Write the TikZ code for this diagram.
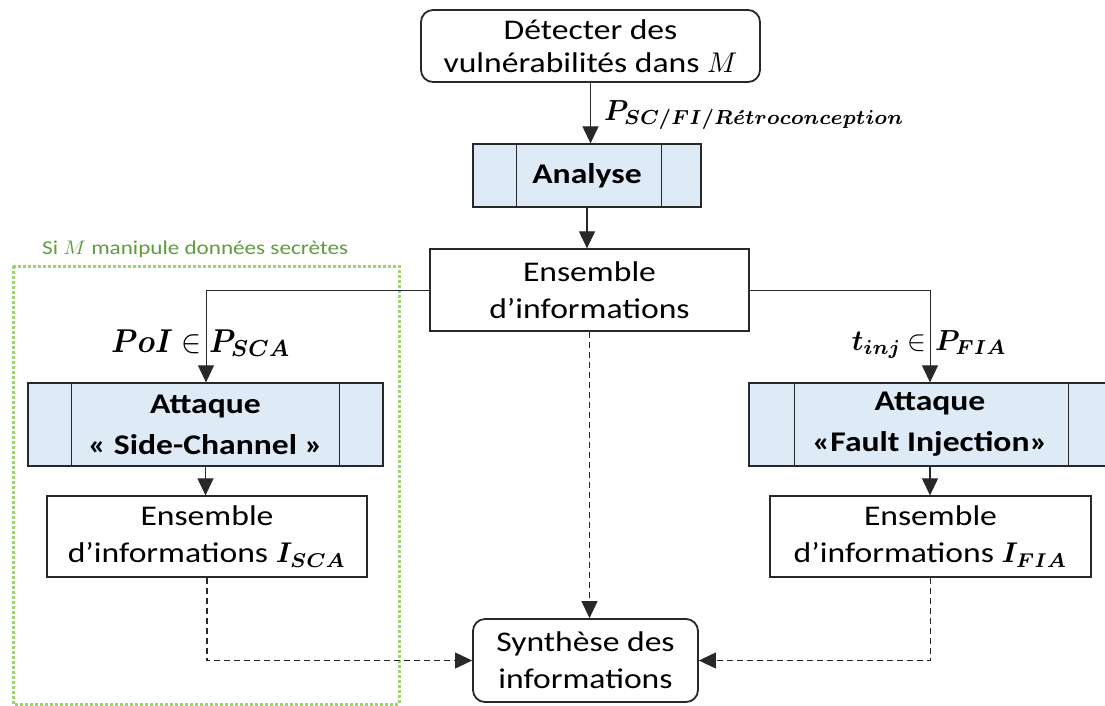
\documentclass[tikz,border=0pt]{standalone}
\usepackage[no-math]{fontspec}
\setmainfont{Carlito}[FakeStretch=1.18]
\usepackage{graphicx}
\usetikzlibrary{arrows.meta}

\definecolor{procfill}{RGB}{222,235,247}
\definecolor{linegray}{RGB}{40,40,40}
\definecolor{framegreen}{RGB}{155,212,110}
\definecolor{labelgreen}{RGB}{94,156,62}

% math set at 10pt, then scaled: #1 vertical factor, #2 horizontal factor
\newcommand{\mx}[3]{\scalebox{#2}[#1]{\fontsize{10}{12}\selectfont #3}}
\newcommand{\mt}[1]{\mx{2.85}{2.8}{#1}}

\tikzset{
  boxbase/.style={draw=linegray, line width=1.3pt, align=center, inner sep=0pt,
    font=\fontsize{28.5}{37}\selectfont},
  roundbox/.style={boxbase, rounded corners=12pt, line width=1.8pt},
  procbox/.style={boxbase, fill=procfill, font=\fontsize{28.5}{41}\selectfont\bfseries},
  infobox/.style={boxbase},
  arr/.style={-{Triangle[width=16pt,length=17pt]}, line width=1.1pt, draw=linegray},
  darr/.style={arr, dash pattern=on 6pt off 4pt},
  mathlabel/.style={inner sep=0pt},
}

\begin{document}
\begin{tikzpicture}[x=1pt, y=-1pt]
\useasboundingbox (0,0) rectangle (1105,705);
\clip (0,0) rectangle (1105,705);

% region grouping the side-channel branch
\draw[framegreen, line width=3pt, dash pattern=on 2.6pt off 2.4pt]
  (13,266) rectangle (399,704);
\node[anchor=base west, inner sep=0pt, text=labelgreen,
      font=\fontsize{19.6}{20}\selectfont] (cond) at (42,254)
  {Si \mx{1.96}{2.1}{$M$} manipule données secrètes};

% boxes
\node[roundbox, minimum width=339pt, minimum height=72pt,
      font=\fontsize{28.5}{33}\selectfont] (detect) at (590.5,46)
  {Détecter des\\vulnérabilités dans \mt{$M$}};
\node[procbox, minimum width=228pt, minimum height=63pt] (ana) at (587,175.5) {Analyse};
\node[infobox, minimum width=319pt, minimum height=82pt] (ens) at (589.5,290)
  {Ensemble\\d’informations};
\node[procbox, minimum width=355pt, minimum height=83pt] (sca) at (205.5,424.5)
  {Attaque\\« Side-Channel »};
\node[procbox, minimum width=362pt, minimum height=83pt] (fia) at (930,424.5)
  {Attaque\\«Fault Injection»};
\node[infobox, minimum width=320pt, minimum height=81pt] (isca) at (207,536.5)
  {Ensemble\\d’informations \mt{\boldmath$I_{SCA}$}};
\node[infobox, minimum width=321pt, minimum height=81pt] (ifia) at (930.5,536.5)
  {Ensemble\\d’informations \mt{\boldmath$I_{FIA}$}};
\node[roundbox, minimum width=225pt, minimum height=83pt] (syn) at (585.5,660.5)
  {Synthèse des\\informations};

% side bars of the process boxes
\foreach \n/\l/\r in {ana/44/40, sca/44/44, fia/46/43}{
  \draw[linegray, line width=1.3pt] ([xshift=\l pt]\n.north west) -- ([xshift=\l pt]\n.south west);
  \draw[linegray, line width=1.3pt] ([xshift=-\r pt]\n.north east) -- ([xshift=-\r pt]\n.south east);
}

% connectors
\draw[arr] (detect.south) -- (detect.south |- ana.north);
\draw[arr] (ana.south) -- (ana.south |- ens.north);
\coordinate (scain) at ([xshift=0.5pt]sca.north);
\draw[arr, line width=0.9pt] (ens.west) -| (scain);
\draw[arr, line width=0.9pt] (ens.east) -| (fia.north);
\draw[arr] (sca.south) -- (sca.south |- isca.north);
\draw[arr] (fia.south) -- (fia.south |- ifia.north);
\draw[darr] (ens.south) -- (ens.south |- syn.north);
\draw[darr] (isca.south) |- (syn.west);
\draw[darr] (ifia.south) |- (syn.east);

% parameter labels
\node[mathlabel, anchor=base west] (pall) at (604,120)
  {\mx{2.9}{2.76}{\boldmath$P_{SC/FI/R\acute{e}troconception}$}};
\node[mathlabel, anchor=base east] (poi) at (202,352)
  {\mx{3.3}{3.0}{\boldmath$PoI$\hspace{3pt}\unboldmath$\in$}};
\node[mathlabel, anchor=base west] (psca) at (209,352)
  {\mx{3.3}{3.0}{\boldmath$P_{SCA}$}};
\node[mathlabel, anchor=base east] (tinj) at (926,350)
  {\mx{2.9}{2.8}{\boldmath$t_{inj}$\hspace{2pt}\unboldmath$\in$}};
\node[mathlabel, anchor=base west] (pfia) at (935,350)
  {\mx{2.9}{2.8}{\boldmath$P_{FIA}$}};
\end{tikzpicture}
\end{document}
